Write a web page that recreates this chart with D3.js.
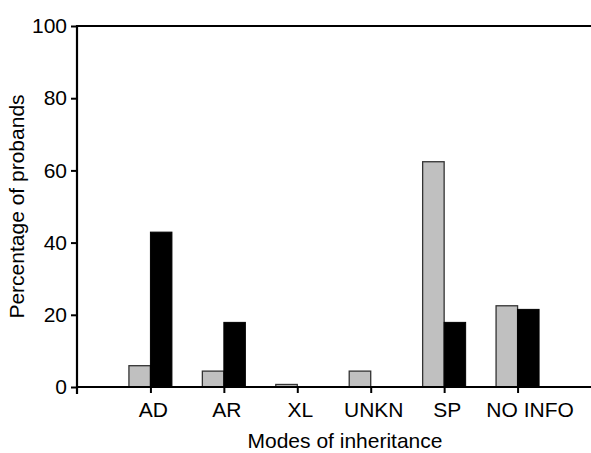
<!DOCTYPE html>
<html>
<head>
<meta charset="utf-8">
<script src="https://cdn.jsdelivr.net/npm/d3@7"></script>
<style>
  html, body { margin: 0; padding: 0; background: #fff; }
  svg { display: block; }
  text { font-family: "Liberation Sans", Arial, sans-serif; }
</style>
</head>
<body>
<script>
const categories = ["AD", "AR", "XL", "UNKN", "SP", "NO INFO"];
const seriesGray = [5.9, 4.4, 0.7, 4.4, 62.4, 22.5];
const seriesBlack = [42.9, 17.9, 0, 0, 17.9, 21.5];
const yTicks = [0, 20, 40, 60, 80, 100];

const W = 591, H = 453;
const mLeft = 77, mRight = 591, mTop = 26, mBottom = 387;
const fontSize = 21;

const svg = d3.select("body").append("svg").attr("width", W).attr("height", H);

const x = d3.scaleLinear().domain([-1, categories.length]).range([mLeft, mRight]);
const y = d3.scaleLinear().domain([0, 100]).range([mBottom, mTop]);
const barW = 21.5;

// bars
const g = svg.append("g");
g.selectAll("rect.gray").data(seriesGray).join("rect")
  .attr("class", "gray")
  .attr("x", (d, i) => x(i) - barW)
  .attr("y", d => y(d))
  .attr("width", barW)
  .attr("height", d => y(0) - y(d))
  .attr("fill", "#c0c0c0")
  .attr("stroke", "#333")
  .attr("stroke-width", 1.3);
g.selectAll("rect.black").data(seriesBlack).join("rect")
  .attr("class", "black")
  .attr("x", (d, i) => x(i))
  .attr("y", d => y(d))
  .attr("width", barW)
  .attr("height", d => y(0) - y(d))
  .attr("fill", "#000")
  .attr("stroke", "#000")
  .attr("stroke-width", d => d > 0 ? 1 : 0);

// y axis
const yAxis = d3.axisLeft(y).tickValues(yTicks).tickSize(6).tickPadding(4);
const ya = svg.append("g").attr("transform", `translate(${mLeft},0)`).call(yAxis);
ya.select(".domain").remove();
ya.selectAll(".tick line").attr("stroke", "#000").attr("stroke-width", 2);
ya.selectAll(".tick text").attr("font-size", fontSize).attr("fill", "#000")
  .attr("font-family", "Liberation Sans, Arial, sans-serif");

// x axis
const xAxis = d3.axisBottom(x).tickValues(d3.range(categories.length))
  .tickFormat(i => categories[i]).tickSize(6).tickPadding(9);
const xa = svg.append("g").attr("transform", `translate(0,${mBottom})`).call(xAxis);
xa.select(".domain").remove();
xa.selectAll(".tick line").attr("stroke", "#000").attr("stroke-width", 2);
xa.selectAll(".tick text").attr("font-size", fontSize).attr("fill", "#000")
  .attr("font-family", "Liberation Sans, Arial, sans-serif")
  .attr("dx", (d, i) => i === categories.length - 1 ? 12 : 2.5);

// frame lines
svg.append("line").attr("x1", mLeft).attr("x2", mRight).attr("y1", y(0)).attr("y2", y(0))
  .attr("stroke", "#000").attr("stroke-width", 2.2);
svg.append("line").attr("x1", mLeft).attr("x2", mLeft).attr("y1", y(100) - 1).attr("y2", y(0) + 7)
  .attr("stroke", "#000").attr("stroke-width", 2.2);
svg.append("line").attr("x1", mLeft).attr("x2", mRight).attr("y1", y(100)).attr("y2", y(100))
  .attr("stroke", "#000").attr("stroke-width", 2);

// titles
svg.append("text").attr("x", 345).attr("y", 448).attr("text-anchor", "middle")
  .attr("font-size", fontSize).text("Modes of inheritance");
svg.append("text").attr("transform", `translate(24,${(mTop + mBottom) / 2}) rotate(-90)`)
  .attr("text-anchor", "middle").attr("font-size", fontSize).text("Percentage of probands");
</script>
</body>
</html>
